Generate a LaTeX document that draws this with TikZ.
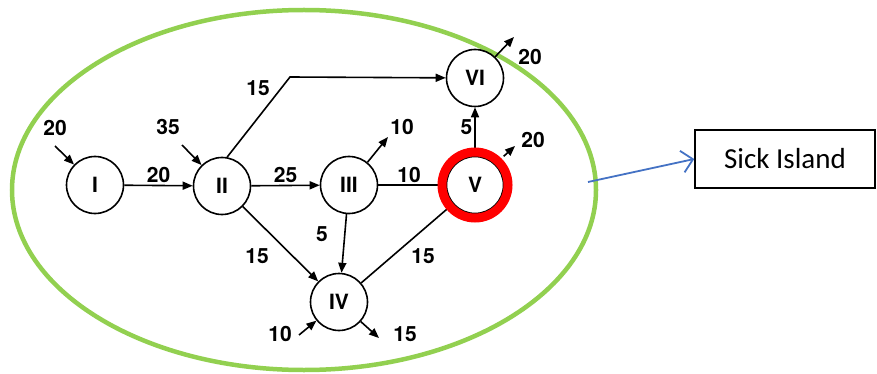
\documentclass[tikz,border=0pt]{standalone}
\usepackage{fontspec}
\setmainfont{TeX Gyre Heros}
\newfontfamily\calibri{Carlito}
\usetikzlibrary{arrows.meta}
\definecolor{grass}{RGB}{146,208,80}
\definecolor{steel}{RGB}{68,114,196}

\begin{document}
\begin{tikzpicture}[x=1pt,y=-1pt,
    stn/.style={draw, circle, line width=1.6pt, minimum size=57pt, inner sep=0pt,
      font=\fontsize{21}{21}\selectfont\bfseries},
    flow/.style={line width=1.6pt, -{Triangle[length=10pt,width=8pt]}},
    pipe/.style={line width=1.6pt},
    num/.style={font=\fontsize{21}{21}\selectfont\bfseries, inner sep=2pt}]
  \useasboundingbox (0,0) rectangle (877,374);

  % the island
  \draw [grass, line width=4.5pt] (304,190) ellipse (292pt and 180pt);

  % stations
  \node [stn] (I) at (95,185) {I};
  \node [stn] (II) at (222,186) {II};
  \node [stn] (III) at (349,185) {III};
  \node [stn] (V) at (475,185) {V};
  \node [stn] (VI) at (475,78) {VI};
  \node [stn] (IV) at (339,302) {IV};

  % links between stations
  \draw [flow] (I) -- (II) node [num, midway, above] (wI) {20};
  \draw [flow] (II) -- (III) node [num, midway, above] (wII) {25};
  \draw [pipe] (III) -- (V) node [num, midway, above, xshift=-3pt] (wIII) {10};
  \draw [flow] (V) -- (VI) node [num, midway, left, yshift=4pt] (wV) {5};
  \coordinate (knee) at (290,77);
  \draw [flow] (II.80) -- (knee) -- (VI);
  \node [num] (wtop) at (258,88) {15};
  \draw [flow] (II) -- (IV);
  \node [num] (wIIb) at (257,256) {15};
  \draw [flow] (III) -- (IV);
  \node [num] (wIIIb) at (322,234) {5};
  \draw [pipe] (V) -- (IV);
  \node [num] (wVb) at (423,256) {15};
  \draw [red, line width=9pt] (V) circle (33pt);

  % in and out
  \coordinate (inI) at (55,146);
  \draw [flow] (inI) -- (I);
  \node [num] (qI) at (55,128) {20};
  \coordinate (inII) at (182,145);
  \draw [flow] (inII) -- (II);
  \node [num] (qII) at (168,127) {35};
  \coordinate (outIII) at (388,137);
  \draw [flow] (III) -- (outIII);
  \node [num] (qIII) at (402,127) {10};
  \coordinate (outV) at (515,146);
  \draw [flow] (V.45) ++(8,-8) -- (outV);
  \node [num] (qV) at (533,140) {20};
  \coordinate (outVI) at (514,37);
  \draw [flow] (VI) -- (outVI);
  \node [num] (qVI) at (530,57) {20};
  \coordinate (inIV) at (299,335);
  \draw [flow] (inIV) -- (IV);
  \node [num] (qIVin) at (280,334) {10};
  \coordinate (outIV) at (379,338);
  \draw [flow] (IV) -- (outIV);
  \node [num] (qIVout) at (405,334) {15};

  % callout
  \node [draw, line width=1.5pt, minimum width=180pt, minimum height=58pt,
    font=\calibri\fontsize{29}{29}\selectfont] (sick) at (785,159) {Sick Island};
  \coordinate (tap) at (588,182);
  \draw [steel, line width=1.8pt, -{Straight Barb[length=11pt,width=22pt]}] (tap) -- (sick.west);
\end{tikzpicture}
\end{document}
